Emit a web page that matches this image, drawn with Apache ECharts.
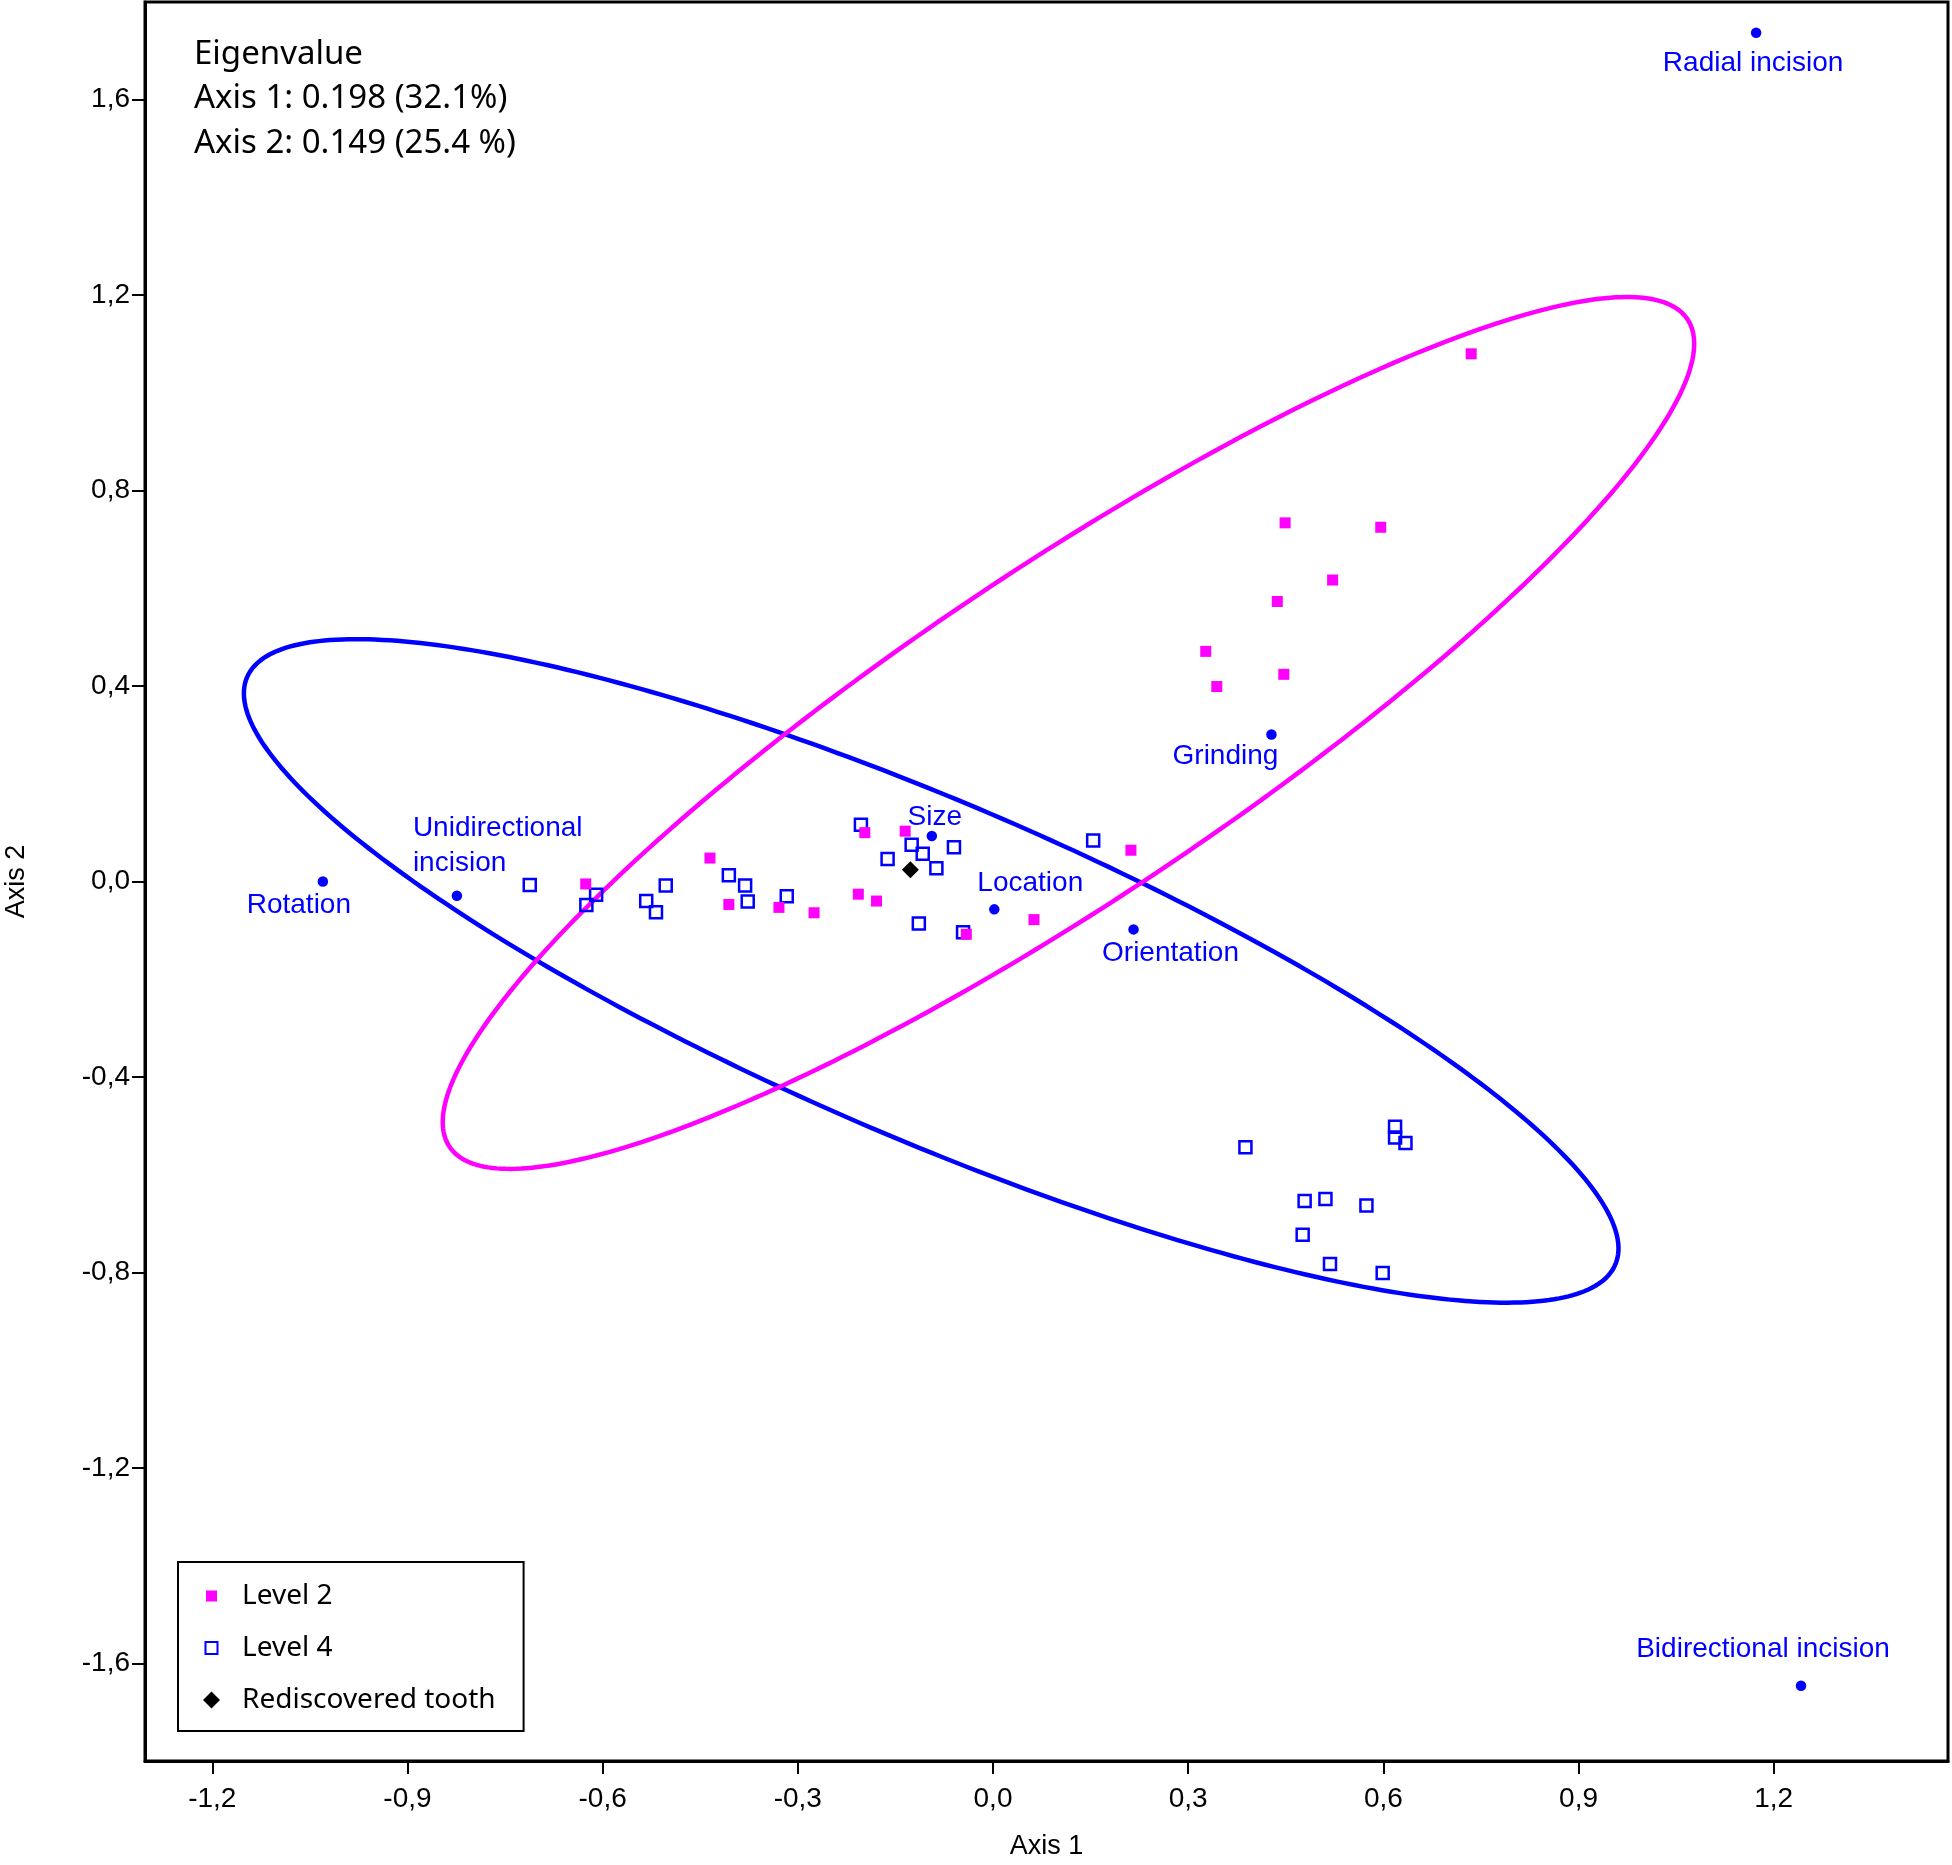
<!DOCTYPE html>
<html><head><meta charset="utf-8">
<script src="https://cdn.jsdelivr.net/npm/echarts@6/dist/echarts.min.js"></script>
<style>html,body{margin:0;padding:0;background:#fff}#c{width:1952px;height:1865px}</style>
</head><body><div id="c"></div>
<script>
// ---- data ----
const level2X = [0.735, 0.449, 0.596, 0.522, 0.437, 0.327, 0.447, 0.344, 0.212, 0.063, -0.041, -0.135, -0.197, -0.179, -0.207, -0.275, -0.329, -0.406, -0.435, -0.626];
const level2Y = [1.080, 0.734, 0.725, 0.617, 0.573, 0.471, 0.424, 0.399, 0.064, -0.078, -0.108, 0.103, 0.100, -0.040, -0.026, -0.064, -0.053, -0.047, 0.048, -0.005];
const level4X = [-0.712, -0.610, -0.625, -0.533, -0.518, -0.503, -0.406, -0.381, -0.377, -0.317, -0.203, -0.162, -0.125, -0.108, -0.060, -0.087, -0.114, -0.046, 0.154, 0.388, 0.618, 0.618, 0.634, 0.479, 0.511, 0.574, 0.476, 0.518, 0.599];
const level4Y = [-0.007, -0.027, -0.048, -0.040, -0.063, -0.008, 0.013, -0.008, -0.041, -0.030, 0.116, 0.046, 0.075, 0.057, 0.070, 0.027, -0.086, -0.104, 0.084, -0.544, -0.502, -0.524, -0.535, -0.654, -0.650, -0.663, -0.723, -0.783, -0.801];
const toothX = [-0.127];
const toothY = [0.024];
const varNames = ['Radial incision', 'Bidirectional incision', 'Rotation', 'Unidirectional\nincision', 'Size', 'Location', 'Orientation', 'Grinding'];
const varX = [1.173, 1.242, -1.030, -0.824, -0.094, 0.002, 0.216, 0.428];
const varY = [1.737, -1.646, 0.000, -0.029, 0.093, -0.057, -0.098, 0.301];
// ellipses: centre x, centre y, spread xx, xy, yy
const ellipseLevel2 = [0.116, 0.304, 0.925, 0.766, 0.796];
const ellipseLevel4 = [-0.095, -0.183, 1.116, -0.600, 0.461];
const xTicks = [-1.2, -0.9, -0.6, -0.3, 0.0, 0.3, 0.6, 0.9, 1.2];
const yTicks = [-1.6, -1.2, -0.8, -0.4, 0.0, 0.4, 0.8, 1.2, 1.6];
const eigenLines = ['Eigenvalue', 'Axis 1: 0.198 (32.1%)', 'Axis 2: 0.149 (25.4 %)'];

// ---- styles ----
const PINK = '#ff00ff', BLUE = '#0000ff';
const labelOffsets = {
  'Radial incision': [-3, 30, 'center'],
  'Bidirectional incision': [-38, -36, 'center'],
  'Rotation': [-24, 24, 'center'],
  'Unidirectional\nincision': [-44, -50, 'left'],
  'Size': [3, -19, 'center'],
  'Location': [36, -26, 'center'],
  'Orientation': [37, 24, 'center'],
  'Grinding': [-46, 22, 'center']
};
const zip = (xs, ys) => xs.map((x, i) => [x, ys[i]]);
const fmt = v => (Math.abs(v) < 1e-9 ? 0 : v).toFixed(1).replace('.', ',');

function ellipseRender(color) {
  return function (params, api) {
    const cx = api.value(0), cy = api.value(1), sxx = api.value(2), sxy = api.value(3), syy = api.value(4);
    const a = Math.sqrt(sxx), b = sxy / a, c = Math.sqrt(syy - b * b);
    const pts = [];
    for (let i = 0; i < 360; i++) {
      const t = i / 360 * Math.PI * 2;
      pts.push(api.coord([cx + a * Math.cos(t), cy + b * Math.cos(t) + c * Math.sin(t)]));
    }
    return { type: 'polygon', shape: { points: pts }, style: { fill: 'none', stroke: color, lineWidth: 4.5 } };
  };
}

const chart = echarts.init(document.getElementById('c'), null, { renderer: 'canvas' });
const axisFont = { fontFamily: 'Liberation Sans', fontSize: 28, color: '#000' };
chart.setOption({
  animation: false,
  backgroundColor: '#fff',
  title: {
    text: eigenLines.join('\n'), left: 189, top: 27,
    textStyle: { fontFamily: 'Noto Sans', fontSize: 33, fontWeight: 'normal', color: '#000', lineHeight: 44.5 }
  },
  grid: { left: 145, right: 4, top: 2, bottom: 104, show: true, borderColor: '#000', borderWidth: 3, outerBoundsMode: 'none', containLabel: false },
  xAxis: {
    type: 'value', min: -1.3034, max: 1.4679,
    name: 'Axis 1', nameLocation: 'middle', nameGap: 72,
    nameTextStyle: { fontFamily: 'Liberation Sans', fontSize: 27, color: '#000' },
    axisLine: { show: true, onZero: false, lineStyle: { color: '#000', width: 3 } },
    axisTick: { show: true, length: 13, lineStyle: { color: '#000', width: 2 }, customValues: xTicks },
    axisLabel: Object.assign({ margin: 24, formatter: fmt, customValues: xTicks }, axisFont),
    splitLine: { show: false }
  },
  yAxis: {
    type: 'value', min: -1.8, max: 1.8,
    name: 'Axis 2', nameLocation: 'middle', nameGap: 115, nameRotate: 90,
    nameTextStyle: { fontFamily: 'Liberation Sans', fontSize: 27, color: '#000' },
    axisLine: { show: true, onZero: false, lineStyle: { color: '#000', width: 3 } },
    axisTick: { show: true, length: 13, lineStyle: { color: '#000', width: 2 }, customValues: yTicks },
    axisLabel: Object.assign({ margin: 15, formatter: fmt, customValues: yTicks }, axisFont),
    splitLine: { show: false }
  },
  legend: {
    orient: 'vertical', left: 178, top: 1562,
    data: [
      { name: 'Level 2', icon: 'path://M0,0M17,17M3,3h11v11h-11z' },
      { name: 'Level 4', icon: 'path://M0,0M17,17M2.5,2.5h12v12h-12z' },
      { name: 'Rediscovered tooth', icon: 'diamond' }
    ],
    itemWidth: 17, itemHeight: 17, itemGap: 18,
    padding: [17, 28, 14, 24],
    borderColor: '#000', borderWidth: 2, backgroundColor: '#fff',
    selectedMode: false,
    textStyle: { fontFamily: 'Noto Sans', fontSize: 28, color: '#000', lineHeight: 34, padding: [0, 0, 0, 17] }
  },
  series: [
    { type: 'custom', name: 'ell4', renderItem: ellipseRender(BLUE), data: [ellipseLevel4], encode: { x: 0, y: 1 }, z: 1, silent: true },
    { type: 'custom', name: 'ell2', renderItem: ellipseRender(PINK), data: [ellipseLevel2], encode: { x: 0, y: 1 }, z: 1, silent: true },
    { type: 'scatter', name: 'Level 4', symbol: 'rect', symbolSize: 12, data: zip(level4X, level4Y),
      itemStyle: { color: 'rgba(0,0,0,0)', borderColor: BLUE, borderWidth: 2.5, opacity: 1 }, z: 3 },
    { type: 'scatter', name: 'Level 2', symbol: 'rect', symbolSize: 11, data: zip(level2X, level2Y),
      itemStyle: { color: PINK, opacity: 1 }, z: 4 },
    { type: 'scatter', name: 'Rediscovered tooth', symbol: 'diamond', symbolSize: [17, 17], data: zip(toothX, toothY),
      itemStyle: { color: '#000', opacity: 1 }, z: 5 },
    { type: 'scatter', name: 'Variables', symbol: 'circle', symbolSize: 10.5, z: 5,
      itemStyle: { color: BLUE, opacity: 1 },
      data: varNames.map((n, i) => ({
        value: [varX[i], varY[i]], name: n,
        label: { show: true, position: 'inside', formatter: n, offset: [labelOffsets[n][0], labelOffsets[n][1]], align: labelOffsets[n][2], verticalAlign: 'middle',
          fontFamily: 'Liberation Sans', fontSize: 28, color: BLUE, lineHeight: 35 }
      })) }
  ]
});
</script></body></html>
